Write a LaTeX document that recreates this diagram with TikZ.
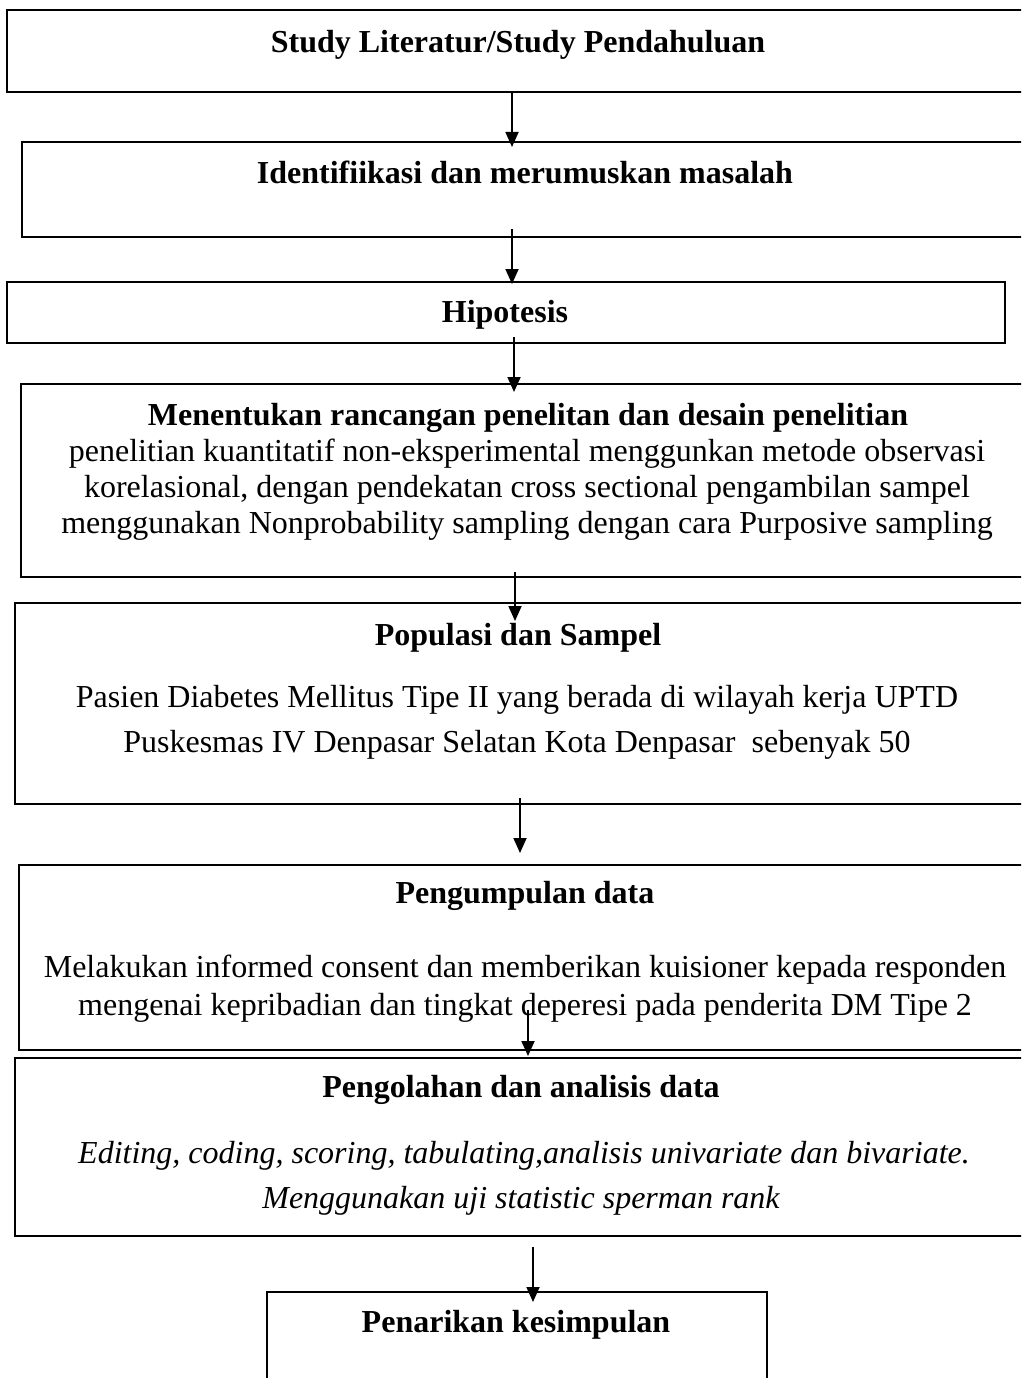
\documentclass[tikz,border=0pt]{standalone}
\usepackage{fontspec}
\setmainfont{Liberation Serif}
\usetikzlibrary{arrows.meta}
\begin{document}
\begin{tikzpicture}[x=1pt,y=-1pt,
  box/.style={draw=black, line width=2pt, inner sep=0pt, outer sep=0pt},
  ttl/.style={anchor=base, inner sep=0pt, font=\fontsize{32}{37}\selectfont\bfseries},
  txt/.style={anchor=base, inner sep=0pt, font=\fontsize{32}{37}\selectfont},
  itx/.style={anchor=base, inner sep=0pt, font=\fontsize{32}{37}\selectfont\itshape},
  arr/.style={line width=1.8pt, -{Triangle[length=15pt,width=13pt]}}]
\useasboundingbox (0,0) rectangle (1021,1378);
\clip (0,0) rectangle (1021,1378);
\fill[white] (0,0) rectangle (1021,1378);
% boxes
\node[box, minimum width=1023pt, minimum height=82pt]  (b1) at (518.5,51) {};
\node[box, minimum width=1008pt, minimum height=95pt]  (b2) at (526,189.5) {};
\node[box, minimum width=998pt,  minimum height=61pt]  (b3) at (506,312.5) {};
\node[box, minimum width=1009pt, minimum height=193pt] (b4) at (525.5,480.5) {};
\node[box, minimum width=1015pt, minimum height=201pt] (b5) at (522.5,703.5) {};
\node[box, minimum width=1011pt, minimum height=185pt] (b6) at (524.5,957.5) {};
\node[box, minimum width=1015pt, minimum height=178pt] (b7) at (522.5,1147) {};
\node[box, minimum width=500pt,  minimum height=128pt] (b8) at (517,1356) {};
% texts
\node[ttl] (t1) at (518,53) {Study Literatur/Study Pendahuluan};
\node[ttl] (t2) at (525,183) {Identifiikasi dan merumuskan masalah};
\node[ttl] (t3) at (505,322) {Hipotesis};
\node[ttl] (t4) at (528,425) {Menentukan rancangan penelitan dan desain penelitian};
\node[txt] (t4a) at (527,461) {penelitian kuantitatif non-eksperimental menggunkan metode observasi};
\node[txt] (t4b) at (527,497) {korelasional, dengan pendekatan cross sectional pengambilan sampel};
\node[txt] (t4c) at (527,533) {menggunakan Nonprobability sampling dengan cara Purposive sampling};
\node[ttl] (t5) at (518,645) {Populasi dan Sampel};
\node[txt] (t5a) at (517,707) {Pasien Diabetes Mellitus Tipe II yang berada di wilayah kerja UPTD};
\node[txt] (t5b) at (517,752) {Puskesmas IV Denpasar Selatan Kota Denpasar\ \ sebenyak 50};
\node[ttl] (t6) at (525,903) {Pengumpulan data};
\node[txt] (t6a) at (525,977) {Melakukan informed consent dan memberikan kuisioner kepada responden};
\node[txt] (t6b) at (525,1015) {mengenai kepribadian dan tingkat deperesi pada penderita DM Tipe 2};
\node[ttl] (t7) at (521,1097) {Pengolahan dan analisis data};
\node[itx] (t7a) at (524,1163) {Editing, coding, scoring, tabulating,analisis univariate dan bivariate.};
\node[itx] (t7b) at (521,1208) {Menggunakan uji statistic sperman rank};
\node[ttl] (t8) at (516,1332) {Penarikan kesimpulan};
% arrow end points
\coordinate (a1s) at (512,92);   \coordinate (a1e) at (512,147);
\coordinate (a2s) at (512,229);  \coordinate (a2e) at (512,284);
\coordinate (a3s) at (514,337);  \coordinate (a3e) at (514,392);
\coordinate (a4s) at (515,572);  \coordinate (a4e) at (515,621);
\coordinate (a5s) at (520,798);  \coordinate (a5e) at (520,853);
\coordinate (a6s) at (528,1010); \coordinate (a6e) at (528,1056);
\coordinate (a7s) at (533,1247); \coordinate (a7e) at (533,1302);
\draw[arr] (a1s) -- (a1e);
\draw[arr] (a2s) -- (a2e);
\draw[arr] (a3s) -- (a3e);
\draw[arr] (a4s) -- (a4e);
\draw[arr] (a5s) -- (a5e);
\draw[arr] (a6s) -- (a6e);
\draw[arr] (a7s) -- (a7e);
\end{tikzpicture}
\end{document}
